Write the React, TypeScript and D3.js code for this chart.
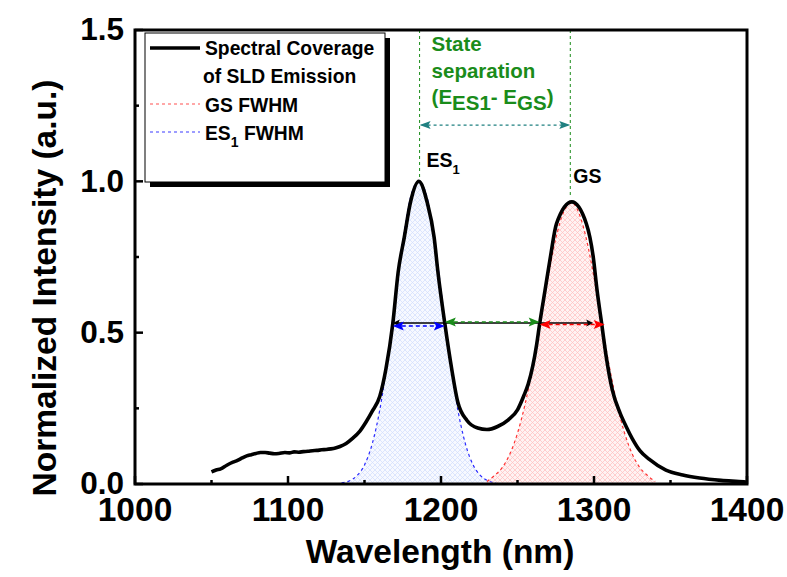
import React from "react";
import * as d3 from "d3";

type P = [number, number];

// Measured SLD emission spectrum (wavelength nm, normalized intensity)
const spectrum: P[] = [
  [1050, 0.04], [1053, 0.046], [1056, 0.05], [1060, 0.062], [1064, 0.072], [1067, 0.078], [1070, 0.086],
  [1073, 0.093], [1076, 0.097], [1079, 0.101], [1082, 0.104], [1085, 0.104], [1088, 0.102], [1091, 0.1],
  [1094, 0.101], [1098, 0.104], [1101, 0.103], [1104, 0.106], [1107, 0.105], [1110, 0.107], [1113, 0.108],
  [1116, 0.11], [1119, 0.111], [1122, 0.113], [1125, 0.114], [1128, 0.116], [1131, 0.119], [1134, 0.124],
  [1138, 0.134], [1142, 0.15], [1147, 0.175], [1151, 0.205], [1155, 0.24], [1160, 0.29], [1164, 0.38],
  [1168.5, 0.53], [1172, 0.7], [1176, 0.815], [1180, 0.93], [1185.5, 1.0], [1191, 0.93], [1195.5, 0.815],
  [1198, 0.7], [1202.5, 0.53], [1207, 0.38], [1211, 0.27], [1217, 0.21], [1224, 0.185], [1230, 0.18],
  [1237, 0.19], [1244, 0.212], [1250, 0.245], [1254, 0.29], [1257, 0.33], [1260, 0.39], [1262.5, 0.46],
  [1264.5, 0.53], [1268, 0.64], [1271.5, 0.75], [1275.5, 0.86], [1285.5, 0.932], [1295, 0.86],
  [1299.5, 0.75], [1302, 0.64], [1305, 0.53], [1308, 0.42], [1312, 0.31], [1317, 0.235], [1321, 0.19],
  [1325, 0.15], [1330, 0.11], [1336, 0.082], [1347, 0.046], [1358, 0.03], [1369, 0.02], [1383, 0.012],
  [1398, 0.007], [1400, 0.006],
];

// ES1 Gaussian fit
const es1Fit: P[] = [
  [1135, 0.004], [1140, 0.01], [1145, 0.027], [1150, 0.063], [1155, 0.132], [1160, 0.245], [1165, 0.406],
  [1170, 0.6], [1175, 0.8], [1180, 0.945], [1185.5, 1.0], [1191, 0.945], [1196, 0.8], [1201, 0.6],
  [1206, 0.406], [1211, 0.245], [1216, 0.132], [1221, 0.063], [1226, 0.027], [1231, 0.01], [1236, 0.004],
];

// GS Gaussian fit
const gsFit: P[] = [
  [1230, 0.008], [1235, 0.028], [1240, 0.054], [1245, 0.099], [1250, 0.168], [1255, 0.265], [1260, 0.389],
  [1265, 0.533], [1270, 0.682], [1275, 0.81], [1280, 0.897], [1285.5, 0.93], [1290, 0.897], [1295, 0.81],
  [1300, 0.682], [1305, 0.533], [1310, 0.389], [1315, 0.265], [1320, 0.168], [1325, 0.099], [1330, 0.054],
  [1335, 0.028], [1340, 0.008],
];

const xTicks = [1000, 1100, 1200, 1300, 1400];
const xMinor = [1050, 1150, 1250, 1350];
const yTicks = [0, 0.5, 1.0, 1.5];
const yMinor = [0.25, 0.75, 1.25];

const es1Fwhm = [1168.5, 1202.5];
const gsFwhm = [1264.5, 1307];
const spanArrow = [1168.5, 1299.5];
const fwhmLevels = { es1: 0.522, gs: 0.527, sep: 0.535, span: 0.532 };
const peakPos = [1186, 1284.5];
const peakVal = [1.0, 0.932];
const sepLevel = 1.186;

const FONT = "Arial, 'Liberation Sans', sans-serif";

function head(tx: number, ty: number, dir: number, len: number, hw: number, color: string, key: string) {
  const pts = `${tx},${ty} ${tx - dir * len},${ty - hw} ${tx - dir * len * 0.8},${ty} ${tx - dir * len},${ty + hw}`;
  return <polygon key={key} points={pts} fill={color} stroke="none" />;
}

export default function App() {
  const W = 787, H = 577;
  const x = d3.scaleLinear().domain([1000, 1400]).range([135, 747]);
  const y = d3.scaleLinear().domain([0, 1.5]).range([484, 30]);
  const line = d3.line<P>().x(d => x(d[0])).y(d => y(d[1])).curve(d3.curveMonotoneX);
  const area = d3.area<P>().x(d => x(d[0])).y0(y(0)).y1(d => y(d[1])).curve(d3.curveMonotoneX);

  const teal = "#1f8080";
  const green = "#1a8c1a";

  const dArrow = (a: number, b: number, lvl: number, color: string, dash: string | undefined, sw: number, len: number, hw: number, k: string) => {
    const x1 = x(a), x2 = x(b), yy = y(lvl);
    return (
      <g key={k}>
        <line x1={x1 + 2} x2={x2 - 2} y1={yy} y2={yy} stroke={color} strokeWidth={sw} strokeDasharray={dash} />
        {head(x1, yy, -1, len, hw, color, k + "l")}
        {head(x2, yy, 1, len, hw, color, k + "r")}
      </g>
    );
  };

  return (
    <svg width={W} height={H} style={{ position: "absolute", left: 0, top: 0, background: "#fff" }} fontFamily={FONT}>
      <defs>
        <pattern id="hatchBlue" width="5" height="5" patternUnits="userSpaceOnUse">
          <rect width="5" height="5" fill="#f7f9ff" />
          <path d="M0,0 L5,5 M5,0 L0,5" stroke="#d3dffc" strokeWidth="0.75" />
        </pattern>
        <pattern id="hatchRed" width="5" height="5" patternUnits="userSpaceOnUse">
          <rect width="5" height="5" fill="#fff3f3" />
          <path d="M0,0 L5,5 M5,0 L0,5" stroke="#ffc2c2" strokeWidth="0.75" />
        </pattern>
        <clipPath id="plotClip"><rect x={135} y={30} width={612} height={454} /></clipPath>
      </defs>

      <g clipPath="url(#plotClip)">
        <path d={area(es1Fit) || ""} fill="url(#hatchBlue)" />
        <path d={area(gsFit) || ""} fill="url(#hatchRed)" />
        <path d={line(es1Fit) || ""} fill="none" stroke="#2a2aff" strokeWidth={1.2} strokeDasharray="3,3" />
        <path d={line(gsFit) || ""} fill="none" stroke="#ff3030" strokeWidth={1.2} strokeDasharray="3,3" />
        <path d={line(spectrum) || ""} fill="none" stroke="#000" strokeWidth={3.6} strokeLinejoin="round" />
      </g>

      {/* peak markers */}
      {peakPos.map((p, i) => (
        <line key={"v" + i} x1={x(p)} x2={x(p)} y1={y(1.5)} y2={y(peakVal[i]) - 4} stroke={green} strokeWidth={1} strokeDasharray="3,3" />
      ))}
      {dArrow(peakPos[0], peakPos[1], sepLevel, teal, "3,3", 1.2, 11, 4, "sep")}

      {/* FWHM arrows */}
      {dArrow(spanArrow[0], spanArrow[1], fwhmLevels.span, "#000", undefined, 1.5, 7, 3.5, "span")}
      {dArrow(es1Fwhm[0], es1Fwhm[1], fwhmLevels.es1, "#0000ff", "4,3", 1.5, 11, 4.5, "es1")}
      {dArrow(es1Fwhm[1], gsFwhm[0], fwhmLevels.sep, green, "4,3", 1.5, 11, 4.5, "gap")}
      {dArrow(gsFwhm[0], gsFwhm[1], fwhmLevels.gs, "#ff0000", "4,3", 1.5, 11, 4.5, "gs")}

      {/* annotation text */}
      <g fill={green} fontWeight="bold" fontSize={20.5}>
        <text x={x(peakPos[0]) + 12} y={51}>State</text>
        <text x={x(peakPos[0]) + 12} y={78}>separation</text>
        <text x={x(peakPos[0]) + 12} y={104}>
          (E<tspan dy={6}>ES1</tspan><tspan dy={-6}>- E</tspan><tspan dy={6}>GS</tspan><tspan dy={-6}>)</tspan>
        </text>
      </g>
      <g fill="#000" fontWeight="bold" fontSize={19.5}>
        <text x={x(peakPos[0]) + 7} y={167}>ES<tspan fontSize={13} dy={7}>1</tspan></text>
        <text x={x(peakPos[1]) + 3} y={183}>GS</text>
      </g>

      {/* legend */}
      <rect x={150} y={38} width={240} height={149} fill="#000" />
      <rect x={145} y={33} width={240} height={149} fill="#fff" stroke="#000" strokeWidth={1} />
      <line x1={150} x2={200} y1={48} y2={48} stroke="#000" strokeWidth={3.6} />
      <line x1={150} x2={200} y1={104} y2={104} stroke="#ff5050" strokeWidth={1.2} strokeDasharray="3,3" />
      <line x1={150} x2={200} y1={132} y2={132} stroke="#3a3aff" strokeWidth={1.2} strokeDasharray="3,3" />
      <g fontWeight="bold" fontSize={19.3} fill="#000">
        <text x={205} y={55}>Spectral Coverage</text>
        <text x={203} y={83}>of SLD Emission</text>
        <text x={205} y={112}>GS FWHM</text>
        <text x={205} y={140}>ES<tspan fontSize={14} dy={7}>1</tspan><tspan dy={-7}> FWHM</tspan></text>
      </g>

      {/* frame */}
      <rect x={135} y={30} width={612} height={454} fill="none" stroke="#000" strokeWidth={3} />

      {/* ticks */}
      {xTicks.map(t => <line key={"xt" + t} x1={x(t)} x2={x(t)} y1={484} y2={476} stroke="#000" strokeWidth={2.5} />)}
      {xMinor.map(t => <line key={"xm" + t} x1={x(t)} x2={x(t)} y1={484} y2={480} stroke="#000" strokeWidth={2.5} />)}
      {yTicks.map(t => <line key={"yt" + t} x1={135} x2={143} y1={y(t)} y2={y(t)} stroke="#000" strokeWidth={2.5} />)}
      {yMinor.map(t => <line key={"ym" + t} x1={135} x2={139} y1={y(t)} y2={y(t)} stroke="#000" strokeWidth={2.5} />)}

      <g fontWeight="bold" fill="#000">
        {xTicks.map(t => <text key={"xl" + t} x={x(t)} y={521} textAnchor="middle" fontSize={33.5}>{t}</text>)}
        {yTicks.map(t => <text key={"yl" + t} x={124} y={y(t)} dy="0.33em" textAnchor="end" fontSize={31.5}>{t.toFixed(1)}</text>)}
      </g>

      <text x={440} y={563} textAnchor="middle" fontWeight="bold" fontSize={33.5}>Wavelength (nm)</text>
      <text transform="translate(56,288) rotate(-90)" textAnchor="middle" fontWeight="bold" fontSize={33.5}>Normalized Intensity (a.u.)</text>
    </svg>
  );
}
